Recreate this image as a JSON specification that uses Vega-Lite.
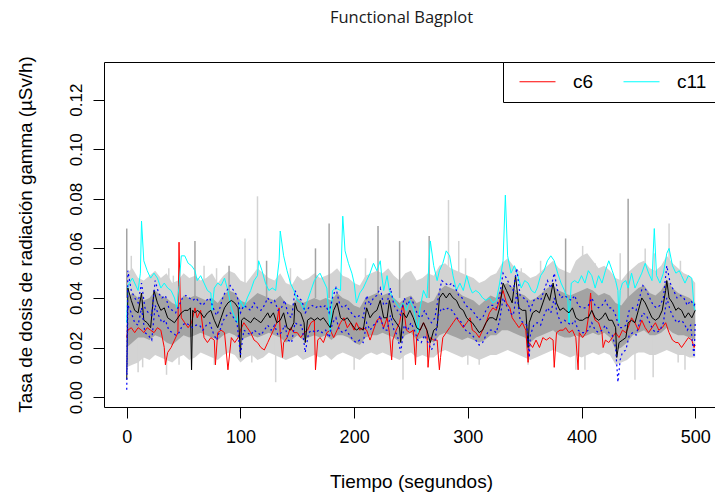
{
"$schema":"https://vega.github.io/schema/vega-lite/v6.json",
"autosize":{"type":"none"},
"padding":{"left":104,"top":62,"right":0,"bottom":87},
"width":611,"height":345,
"background":"white",
"title":{"text":"Functional Bagplot","font":"Open Sans","fontSize":16.5,"fontWeight":"normal","color":"#1a1a1a","anchor":"middle","frame":"group","dx":-8,"offset":29},
"config":{"view":{"stroke":"black","strokeWidth":1},
"axis":{"grid":false,"domain":false,"tickColor":"black","labelColor":"black","titleColor":"black","labelFont":"Liberation Sans","titleFont":"Liberation Sans","labelFontSize":18,"titleFontSize":19,"titleFontWeight":"normal","tickSize":11}},
"datasets":{
"band":[
{"t":0,"olo":0.012,"blo":0.020,"bhi":0.040,"ohi":0.050},
{"t":5,"olo":0.013,"blo":0.022,"bhi":0.042,"ohi":0.052},
{"t":10,"olo":0.014,"blo":0.024,"bhi":0.040,"ohi":0.048},
{"t":15,"olo":0.016,"blo":0.024,"bhi":0.039,"ohi":0.047},
{"t":20,"olo":0.015,"blo":0.023,"bhi":0.040,"ohi":0.049},
{"t":25,"olo":0.017,"blo":0.025,"bhi":0.043,"ohi":0.051},
{"t":30,"olo":0.016,"blo":0.024,"bhi":0.041,"ohi":0.048},
{"t":35,"olo":0.015,"blo":0.022,"bhi":0.040,"ohi":0.050},
{"t":40,"olo":0.014,"blo":0.021,"bhi":0.038,"ohi":0.046},
{"t":45,"olo":0.016,"blo":0.023,"bhi":0.037,"ohi":0.047},
{"t":50,"olo":0.017,"blo":0.025,"bhi":0.041,"ohi":0.050},
{"t":55,"olo":0.015,"blo":0.024,"bhi":0.040,"ohi":0.048},
{"t":60,"olo":0.016,"blo":0.025,"bhi":0.041,"ohi":0.049},
{"t":65,"olo":0.018,"blo":0.026,"bhi":0.040,"ohi":0.047},
{"t":70,"olo":0.017,"blo":0.025,"bhi":0.039,"ohi":0.048},
{"t":75,"olo":0.016,"blo":0.024,"bhi":0.040,"ohi":0.050},
{"t":80,"olo":0.015,"blo":0.023,"bhi":0.038,"ohi":0.046},
{"t":85,"olo":0.017,"blo":0.025,"bhi":0.041,"ohi":0.049},
{"t":90,"olo":0.018,"blo":0.026,"bhi":0.043,"ohi":0.051},
{"t":95,"olo":0.017,"blo":0.025,"bhi":0.042,"ohi":0.050},
{"t":100,"olo":0.014,"blo":0.023,"bhi":0.039,"ohi":0.047},
{"t":105,"olo":0.016,"blo":0.024,"bhi":0.038,"ohi":0.046},
{"t":110,"olo":0.017,"blo":0.025,"bhi":0.040,"ohi":0.049},
{"t":115,"olo":0.015,"blo":0.024,"bhi":0.042,"ohi":0.052},
{"t":120,"olo":0.016,"blo":0.025,"bhi":0.041,"ohi":0.050},
{"t":125,"olo":0.018,"blo":0.026,"bhi":0.040,"ohi":0.048},
{"t":130,"olo":0.017,"blo":0.025,"bhi":0.039,"ohi":0.047},
{"t":135,"olo":0.016,"blo":0.024,"bhi":0.041,"ohi":0.050},
{"t":140,"olo":0.015,"blo":0.022,"bhi":0.038,"ohi":0.046},
{"t":145,"olo":0.016,"blo":0.023,"bhi":0.037,"ohi":0.045},
{"t":150,"olo":0.017,"blo":0.025,"bhi":0.040,"ohi":0.049},
{"t":155,"olo":0.015,"blo":0.023,"bhi":0.038,"ohi":0.047},
{"t":160,"olo":0.016,"blo":0.024,"bhi":0.039,"ohi":0.048},
{"t":165,"olo":0.017,"blo":0.025,"bhi":0.040,"ohi":0.050},
{"t":170,"olo":0.016,"blo":0.024,"bhi":0.039,"ohi":0.048},
{"t":175,"olo":0.017,"blo":0.025,"bhi":0.040,"ohi":0.049},
{"t":180,"olo":0.015,"blo":0.023,"bhi":0.039,"ohi":0.050},
{"t":185,"olo":0.017,"blo":0.025,"bhi":0.042,"ohi":0.052},
{"t":190,"olo":0.018,"blo":0.025,"bhi":0.040,"ohi":0.049},
{"t":195,"olo":0.017,"blo":0.024,"bhi":0.039,"ohi":0.048},
{"t":200,"olo":0.016,"blo":0.022,"bhi":0.037,"ohi":0.046},
{"t":205,"olo":0.015,"blo":0.021,"bhi":0.036,"ohi":0.045},
{"t":210,"olo":0.017,"blo":0.024,"bhi":0.040,"ohi":0.049},
{"t":215,"olo":0.018,"blo":0.025,"bhi":0.041,"ohi":0.050},
{"t":220,"olo":0.017,"blo":0.025,"bhi":0.042,"ohi":0.051},
{"t":225,"olo":0.018,"blo":0.026,"bhi":0.041,"ohi":0.050},
{"t":230,"olo":0.017,"blo":0.025,"bhi":0.042,"ohi":0.052},
{"t":235,"olo":0.016,"blo":0.024,"bhi":0.040,"ohi":0.049},
{"t":240,"olo":0.015,"blo":0.022,"bhi":0.038,"ohi":0.047},
{"t":245,"olo":0.017,"blo":0.025,"bhi":0.040,"ohi":0.050},
{"t":250,"olo":0.018,"blo":0.026,"bhi":0.041,"ohi":0.051},
{"t":255,"olo":0.016,"blo":0.023,"bhi":0.038,"ohi":0.047},
{"t":260,"olo":0.017,"blo":0.024,"bhi":0.039,"ohi":0.048},
{"t":265,"olo":0.016,"blo":0.023,"bhi":0.038,"ohi":0.050},
{"t":270,"olo":0.016,"blo":0.022,"bhi":0.039,"ohi":0.049},
{"t":275,"olo":0.018,"blo":0.025,"bhi":0.043,"ohi":0.053},
{"t":280,"olo":0.019,"blo":0.026,"bhi":0.045,"ohi":0.054},
{"t":285,"olo":0.018,"blo":0.025,"bhi":0.044,"ohi":0.052},
{"t":290,"olo":0.017,"blo":0.024,"bhi":0.043,"ohi":0.051},
{"t":295,"olo":0.016,"blo":0.023,"bhi":0.041,"ohi":0.050},
{"t":300,"olo":0.017,"blo":0.024,"bhi":0.040,"ohi":0.049},
{"t":305,"olo":0.016,"blo":0.023,"bhi":0.039,"ohi":0.048},
{"t":310,"olo":0.015,"blo":0.022,"bhi":0.037,"ohi":0.046},
{"t":315,"olo":0.016,"blo":0.023,"bhi":0.039,"ohi":0.047},
{"t":320,"olo":0.017,"blo":0.025,"bhi":0.041,"ohi":0.049},
{"t":325,"olo":0.017,"blo":0.025,"bhi":0.040,"ohi":0.050},
{"t":330,"olo":0.018,"blo":0.027,"bhi":0.045,"ohi":0.054},
{"t":335,"olo":0.019,"blo":0.027,"bhi":0.046,"ohi":0.056},
{"t":340,"olo":0.018,"blo":0.026,"bhi":0.044,"ohi":0.053},
{"t":345,"olo":0.017,"blo":0.025,"bhi":0.042,"ohi":0.051},
{"t":350,"olo":0.016,"blo":0.024,"bhi":0.041,"ohi":0.050},
{"t":355,"olo":0.015,"blo":0.022,"bhi":0.039,"ohi":0.048},
{"t":360,"olo":0.016,"blo":0.024,"bhi":0.040,"ohi":0.049},
{"t":365,"olo":0.017,"blo":0.025,"bhi":0.042,"ohi":0.051},
{"t":370,"olo":0.018,"blo":0.026,"bhi":0.044,"ohi":0.053},
{"t":375,"olo":0.019,"blo":0.027,"bhi":0.045,"ohi":0.055},
{"t":380,"olo":0.018,"blo":0.025,"bhi":0.043,"ohi":0.052},
{"t":385,"olo":0.017,"blo":0.024,"bhi":0.042,"ohi":0.051},
{"t":390,"olo":0.016,"blo":0.024,"bhi":0.041,"ohi":0.050},
{"t":395,"olo":0.017,"blo":0.025,"bhi":0.042,"ohi":0.055},
{"t":400,"olo":0.016,"blo":0.024,"bhi":0.043,"ohi":0.057},
{"t":405,"olo":0.017,"blo":0.025,"bhi":0.044,"ohi":0.058},
{"t":410,"olo":0.018,"blo":0.026,"bhi":0.043,"ohi":0.055},
{"t":415,"olo":0.017,"blo":0.025,"bhi":0.041,"ohi":0.052},
{"t":420,"olo":0.018,"blo":0.026,"bhi":0.042,"ohi":0.053},
{"t":425,"olo":0.017,"blo":0.024,"bhi":0.041,"ohi":0.051},
{"t":430,"olo":0.013,"blo":0.019,"bhi":0.038,"ohi":0.048},
{"t":435,"olo":0.014,"blo":0.020,"bhi":0.037,"ohi":0.047},
{"t":440,"olo":0.015,"blo":0.022,"bhi":0.040,"ohi":0.050},
{"t":445,"olo":0.017,"blo":0.025,"bhi":0.042,"ohi":0.052},
{"t":450,"olo":0.018,"blo":0.026,"bhi":0.044,"ohi":0.054},
{"t":455,"olo":0.018,"blo":0.027,"bhi":0.045,"ohi":0.055},
{"t":460,"olo":0.017,"blo":0.025,"bhi":0.042,"ohi":0.052},
{"t":465,"olo":0.017,"blo":0.025,"bhi":0.041,"ohi":0.051},
{"t":470,"olo":0.018,"blo":0.026,"bhi":0.043,"ohi":0.053},
{"t":475,"olo":0.019,"blo":0.028,"bhi":0.047,"ohi":0.057},
{"t":480,"olo":0.018,"blo":0.026,"bhi":0.044,"ohi":0.054},
{"t":485,"olo":0.017,"blo":0.025,"bhi":0.042,"ohi":0.052},
{"t":490,"olo":0.017,"blo":0.025,"bhi":0.041,"ohi":0.050},
{"t":495,"olo":0.016,"blo":0.024,"bhi":0.040,"ohi":0.049},
{"t":500,"olo":0.016,"blo":0.023,"bhi":0.038,"ohi":0.046}
],
"spk":[
{"t":0,"a":0.04,"b":0.068,"k":"d"},{"t":4,"a":0.04,"b":0.057,"k":"l"},{"t":37,"a":0.04,"b":0.052,"k":"l"},{"t":41,"a":0.04,"b":0.049,"k":"l"},
{"t":60,"a":0.04,"b":0.063,"k":"d"},{"t":68,"a":0.04,"b":0.053,"k":"l"},{"t":79,"a":0.04,"b":0.052,"k":"l"},{"t":90,"a":0.04,"b":0.053,"k":"d"},
{"t":104,"a":0.04,"b":0.064,"k":"l"},{"t":115,"a":0.04,"b":0.081,"k":"l"},{"t":123,"a":0.04,"b":0.055,"k":"d"},{"t":144,"a":0.04,"b":0.052,"k":"l"},
{"t":166,"a":0.04,"b":0.060,"k":"d"},{"t":178,"a":0.04,"b":0.070,"k":"d"},{"t":210,"a":0.04,"b":0.056,"k":"l"},{"t":221,"a":0.04,"b":0.069,"k":"d"},
{"t":240,"a":0.04,"b":0.063,"k":"d"},{"t":266,"a":0.04,"b":0.065,"k":"d"},{"t":283,"a":0.04,"b":0.0795,"k":"l"},{"t":292,"a":0.04,"b":0.063,"k":"l"},
{"t":298,"a":0.04,"b":0.056,"k":"l"},{"t":347,"a":0.04,"b":0.052,"k":"l"},{"t":364,"a":0.04,"b":0.055,"k":"l"},{"t":386,"a":0.04,"b":0.064,"k":"d"},
{"t":401,"a":0.04,"b":0.061,"k":"l"},{"t":412,"a":0.04,"b":0.054,"k":"l"},{"t":434,"a":0.04,"b":0.058,"k":"l"},{"t":441,"a":0.04,"b":0.080,"k":"d"},
{"t":456,"a":0.04,"b":0.060,"k":"l"},{"t":464,"a":0.04,"b":0.058,"k":"l"},{"t":477,"a":0.04,"b":0.070,"k":"l"},{"t":487,"a":0.04,"b":0.055,"k":"l"},
{"t":10,"a":0.025,"b":0.010,"k":"l"},{"t":14,"a":0.025,"b":0.012,"k":"l"},{"t":35,"a":0.025,"b":0.009,"k":"l"},{"t":46,"a":0.025,"b":0.013,"k":"l"},
{"t":57,"a":0.025,"b":0.011,"k":"l"},{"t":77,"a":0.025,"b":0.013,"k":"l"},{"t":110,"a":0.025,"b":0.014,"k":"l"},{"t":131,"a":0.025,"b":0.006,"k":"l"},
{"t":200,"a":0.025,"b":0.011,"k":"l"},{"t":243,"a":0.025,"b":0.007,"k":"l"},{"t":300,"a":0.025,"b":0.013,"k":"l"},{"t":310,"a":0.025,"b":0.013,"k":"l"},
{"t":353,"a":0.025,"b":0.013,"k":"l"},{"t":395,"a":0.025,"b":0.011,"k":"l"},{"t":403,"a":0.025,"b":0.011,"k":"l"},{"t":447,"a":0.025,"b":0.007,"k":"l"},
{"t":463,"a":0.025,"b":0.008,"k":"l"},{"t":485,"a":0.025,"b":0.014,"k":"l"},{"t":491,"a":0.025,"b":0.011,"k":"l"}
],
"out":[
{"s":"c6","t":0,"v":0.024},{"s":"c6","t":1,"v":0.027},{"s":"c6","t":4,"v":0.028},{"s":"c6","t":7,"v":0.026},{"s":"c6","t":10,"v":0.028},{"s":"c6","t":13,"v":0.027},{"s":"c6","t":15,"v":0.026},{"s":"c6","t":18,"v":0.028},{"s":"c6","t":21,"v":0.027},{"s":"c6","t":24,"v":0.026},{"s":"c6","t":27,"v":0.028},{"s":"c6","t":30,"v":0.027},{"s":"c6","t":33,"v":0.020},{"s":"c6","t":34,"v":0.013},{"s":"c6","t":36,"v":0.018},{"s":"c6","t":39,"v":0.020},{"s":"c6","t":42,"v":0.023},{"s":"c6","t":45,"v":0.026},{"s":"c6","t":46,"v":0.0625},{"s":"c6","t":47,"v":0.040},{"s":"c6","t":48,"v":0.032},{"s":"c6","t":51,"v":0.030},{"s":"c6","t":54,"v":0.028},{"s":"c6","t":57,"v":0.030},{"s":"c6","t":60,"v":0.036},{"s":"c6","t":62,"v":0.032},{"s":"c6","t":65,"v":0.035},{"s":"c6","t":68,"v":0.024},{"s":"c6","t":71,"v":0.022},{"s":"c6","t":74,"v":0.024},{"s":"c6","t":77,"v":0.023},{"s":"c6","t":78,"v":0.013},{"s":"c6","t":80,"v":0.026},{"s":"c6","t":83,"v":0.027},{"s":"c6","t":86,"v":0.026},{"s":"c6","t":89,"v":0.011},{"s":"c6","t":92,"v":0.024},{"s":"c6","t":95,"v":0.022},{"s":"c6","t":98,"v":0.024},{"s":"c6","t":100,"v":0.027},{"s":"c6","t":103,"v":0.030},{"s":"c6","t":106,"v":0.028},{"s":"c6","t":109,"v":0.026},{"s":"c6","t":112,"v":0.023},{"s":"c6","t":115,"v":0.022},{"s":"c6","t":118,"v":0.020},{"s":"c6","t":121,"v":0.019},{"s":"c6","t":124,"v":0.022},{"s":"c6","t":126,"v":0.024},{"s":"c6","t":129,"v":0.027},{"s":"c6","t":132,"v":0.030},{"s":"c6","t":134,"v":0.036},{"s":"c6","t":135,"v":0.026},{"s":"c6","t":137,"v":0.016},{"s":"c6","t":138,"v":0.022},{"s":"c6","t":141,"v":0.024},{"s":"c6","t":144,"v":0.028},{"s":"c6","t":147,"v":0.026},{"s":"c6","t":150,"v":0.026},{"s":"c6","t":153,"v":0.024},{"s":"c6","t":156,"v":0.026},{"s":"c6","t":159,"v":0.027},{"s":"c6","t":162,"v":0.030},{"s":"c6","t":165,"v":0.031},{"s":"c6","t":166,"v":0.011},{"s":"c6","t":168,"v":0.023},{"s":"c6","t":170,"v":0.024},{"s":"c6","t":173,"v":0.022},{"s":"c6","t":176,"v":0.026},{"s":"c6","t":179,"v":0.027},{"s":"c6","t":182,"v":0.024},{"s":"c6","t":185,"v":0.027},{"s":"c6","t":188,"v":0.030},{"s":"c6","t":191,"v":0.032},{"s":"c6","t":194,"v":0.028},{"s":"c6","t":197,"v":0.030},{"s":"c6","t":200,"v":0.027},{"s":"c6","t":202,"v":0.030},{"s":"c6","t":205,"v":0.027},{"s":"c6","t":208,"v":0.028},{"s":"c6","t":211,"v":0.027},{"s":"c6","t":214,"v":0.023},{"s":"c6","t":217,"v":0.027},{"s":"c6","t":220,"v":0.031},{"s":"c6","t":223,"v":0.032},{"s":"c6","t":226,"v":0.028},{"s":"c6","t":229,"v":0.032},{"s":"c6","t":231,"v":0.026},{"s":"c6","t":233,"v":0.015},{"s":"c6","t":234,"v":0.023},{"s":"c6","t":237,"v":0.027},{"s":"c6","t":240,"v":0.030},{"s":"c6","t":243,"v":0.038},{"s":"c6","t":246,"v":0.027},{"s":"c6","t":249,"v":0.026},{"s":"c6","t":252,"v":0.027},{"s":"c6","t":254,"v":0.013},{"s":"c6","t":255,"v":0.024},{"s":"c6","t":258,"v":0.027},{"s":"c6","t":261,"v":0.030},{"s":"c6","t":264,"v":0.027},{"s":"c6","t":265,"v":0.012},{"s":"c6","t":267,"v":0.024},{"s":"c6","t":270,"v":0.023},{"s":"c6","t":273,"v":0.023},{"s":"c6","t":275,"v":0.011},{"s":"c6","t":276,"v":0.016},{"s":"c6","t":278,"v":0.024},{"s":"c6","t":281,"v":0.026},{"s":"c6","t":284,"v":0.028},{"s":"c6","t":287,"v":0.030},{"s":"c6","t":290,"v":0.032},{"s":"c6","t":293,"v":0.030},{"s":"c6","t":296,"v":0.028},{"s":"c6","t":299,"v":0.030},{"s":"c6","t":302,"v":0.032},{"s":"c6","t":304,"v":0.027},{"s":"c6","t":307,"v":0.026},{"s":"c6","t":310,"v":0.024},{"s":"c6","t":313,"v":0.027},{"s":"c6","t":316,"v":0.030},{"s":"c6","t":319,"v":0.034},{"s":"c6","t":322,"v":0.036},{"s":"c6","t":325,"v":0.035},{"s":"c6","t":328,"v":0.039},{"s":"c6","t":331,"v":0.043},{"s":"c6","t":334,"v":0.038},{"s":"c6","t":337,"v":0.036},{"s":"c6","t":339,"v":0.032},{"s":"c6","t":342,"v":0.030},{"s":"c6","t":345,"v":0.028},{"s":"c6","t":348,"v":0.030},{"s":"c6","t":351,"v":0.027},{"s":"c6","t":353,"v":0.014},{"s":"c6","t":354,"v":0.022},{"s":"c6","t":357,"v":0.020},{"s":"c6","t":360,"v":0.023},{"s":"c6","t":363,"v":0.020},{"s":"c6","t":366,"v":0.024},{"s":"c6","t":369,"v":0.023},{"s":"c6","t":372,"v":0.024},{"s":"c6","t":375,"v":0.023},{"s":"c6","t":376,"v":0.012},{"s":"c6","t":378,"v":0.026},{"s":"c6","t":381,"v":0.027},{"s":"c6","t":384,"v":0.027},{"s":"c6","t":386,"v":0.028},{"s":"c6","t":389,"v":0.026},{"s":"c6","t":392,"v":0.027},{"s":"c6","t":395,"v":0.024},{"s":"c6","t":397,"v":0.011},{"s":"c6","t":398,"v":0.026},{"s":"c6","t":401,"v":0.024},{"s":"c6","t":404,"v":0.026},{"s":"c6","t":406,"v":0.032},{"s":"c6","t":408,"v":0.042},{"s":"c6","t":409,"v":0.035},{"s":"c6","t":412,"v":0.031},{"s":"c6","t":415,"v":0.030},{"s":"c6","t":418,"v":0.026},{"s":"c6","t":419,"v":0.020},{"s":"c6","t":421,"v":0.023},{"s":"c6","t":424,"v":0.022},{"s":"c6","t":427,"v":0.024},{"s":"c6","t":430,"v":0.026},{"s":"c6","t":433,"v":0.024},{"s":"c6","t":436,"v":0.027},{"s":"c6","t":439,"v":0.026},{"s":"c6","t":441,"v":0.028},{"s":"c6","t":444,"v":0.032},{"s":"c6","t":447,"v":0.030},{"s":"c6","t":450,"v":0.027},{"s":"c6","t":453,"v":0.031},{"s":"c6","t":456,"v":0.028},{"s":"c6","t":459,"v":0.026},{"s":"c6","t":462,"v":0.028},{"s":"c6","t":465,"v":0.030},{"s":"c6","t":468,"v":0.027},{"s":"c6","t":471,"v":0.028},{"s":"c6","t":474,"v":0.030},{"s":"c6","t":477,"v":0.026},{"s":"c6","t":480,"v":0.023},{"s":"c6","t":483,"v":0.022},{"s":"c6","t":485,"v":0.022},{"s":"c6","t":488,"v":0.020},{"s":"c6","t":491,"v":0.022},{"s":"c6","t":494,"v":0.024},{"s":"c6","t":497,"v":0.023},{"s":"c6","t":499,"v":0.020},{"s":"c6","t":500,"v":0.021},
{"s":"c11","t":0,"v":0.030},{"s":"c11","t":1,"v":0.045},{"s":"c11","t":5,"v":0.048},{"s":"c11","t":10,"v":0.043},{"s":"c11","t":12,"v":0.050},{"s":"c11","t":13,"v":0.071},{"s":"c11","t":15,"v":0.055},{"s":"c11","t":18,"v":0.051},{"s":"c11","t":21,"v":0.048},{"s":"c11","t":24,"v":0.050},{"s":"c11","t":27,"v":0.048},{"s":"c11","t":30,"v":0.044},{"s":"c11","t":33,"v":0.046},{"s":"c11","t":36,"v":0.044},{"s":"c11","t":39,"v":0.043},{"s":"c11","t":42,"v":0.040},{"s":"c11","t":44,"v":0.036},{"s":"c11","t":46,"v":0.045},{"s":"c11","t":48,"v":0.057},{"s":"c11","t":51,"v":0.057},{"s":"c11","t":54,"v":0.054},{"s":"c11","t":57,"v":0.053},{"s":"c11","t":60,"v":0.051},{"s":"c11","t":62,"v":0.047},{"s":"c11","t":65,"v":0.049},{"s":"c11","t":68,"v":0.046},{"s":"c11","t":71,"v":0.043},{"s":"c11","t":74,"v":0.042},{"s":"c11","t":75,"v":0.035},{"s":"c11","t":77,"v":0.044},{"s":"c11","t":80,"v":0.046},{"s":"c11","t":83,"v":0.045},{"s":"c11","t":86,"v":0.048},{"s":"c11","t":89,"v":0.043},{"s":"c11","t":92,"v":0.036},{"s":"c11","t":95,"v":0.032},{"s":"c11","t":97,"v":0.030},{"s":"c11","t":100,"v":0.039},{"s":"c11","t":103,"v":0.036},{"s":"c11","t":106,"v":0.040},{"s":"c11","t":109,"v":0.043},{"s":"c11","t":112,"v":0.047},{"s":"c11","t":115,"v":0.049},{"s":"c11","t":116,"v":0.055},{"s":"c11","t":119,"v":0.051},{"s":"c11","t":122,"v":0.046},{"s":"c11","t":125,"v":0.043},{"s":"c11","t":128,"v":0.044},{"s":"c11","t":131,"v":0.043},{"s":"c11","t":134,"v":0.055},{"s":"c11","t":135,"v":0.067},{"s":"c11","t":138,"v":0.057},{"s":"c11","t":141,"v":0.051},{"s":"c11","t":144,"v":0.046},{"s":"c11","t":147,"v":0.043},{"s":"c11","t":150,"v":0.039},{"s":"c11","t":153,"v":0.038},{"s":"c11","t":156,"v":0.035},{"s":"c11","t":159,"v":0.039},{"s":"c11","t":162,"v":0.043},{"s":"c11","t":165,"v":0.047},{"s":"c11","t":168,"v":0.049},{"s":"c11","t":170,"v":0.050},{"s":"c11","t":173,"v":0.047},{"s":"c11","t":176,"v":0.044},{"s":"c11","t":179,"v":0.026},{"s":"c11","t":181,"v":0.043},{"s":"c11","t":184,"v":0.044},{"s":"c11","t":188,"v":0.043},{"s":"c11","t":190,"v":0.073},{"s":"c11","t":192,"v":0.059},{"s":"c11","t":195,"v":0.054},{"s":"c11","t":198,"v":0.050},{"s":"c11","t":200,"v":0.046},{"s":"c11","t":202,"v":0.038},{"s":"c11","t":205,"v":0.042},{"s":"c11","t":208,"v":0.044},{"s":"c11","t":211,"v":0.047},{"s":"c11","t":214,"v":0.050},{"s":"c11","t":217,"v":0.054},{"s":"c11","t":220,"v":0.051},{"s":"c11","t":223,"v":0.055},{"s":"c11","t":224,"v":0.050},{"s":"c11","t":226,"v":0.043},{"s":"c11","t":229,"v":0.049},{"s":"c11","t":231,"v":0.043},{"s":"c11","t":234,"v":0.040},{"s":"c11","t":237,"v":0.038},{"s":"c11","t":240,"v":0.036},{"s":"c11","t":243,"v":0.038},{"s":"c11","t":246,"v":0.035},{"s":"c11","t":249,"v":0.039},{"s":"c11","t":252,"v":0.036},{"s":"c11","t":255,"v":0.030},{"s":"c11","t":256,"v":0.026},{"s":"c11","t":258,"v":0.036},{"s":"c11","t":261,"v":0.043},{"s":"c11","t":264,"v":0.040},{"s":"c11","t":267,"v":0.063},{"s":"c11","t":270,"v":0.053},{"s":"c11","t":273,"v":0.047},{"s":"c11","t":275,"v":0.051},{"s":"c11","t":278,"v":0.054},{"s":"c11","t":281,"v":0.059},{"s":"c11","t":284,"v":0.057},{"s":"c11","t":287,"v":0.049},{"s":"c11","t":290,"v":0.043},{"s":"c11","t":293,"v":0.046},{"s":"c11","t":296,"v":0.043},{"s":"c11","t":299,"v":0.049},{"s":"c11","t":302,"v":0.044},{"s":"c11","t":304,"v":0.042},{"s":"c11","t":307,"v":0.043},{"s":"c11","t":310,"v":0.042},{"s":"c11","t":313,"v":0.040},{"s":"c11","t":316,"v":0.039},{"s":"c11","t":319,"v":0.040},{"s":"c11","t":322,"v":0.038},{"s":"c11","t":325,"v":0.039},{"s":"c11","t":328,"v":0.046},{"s":"c11","t":331,"v":0.055},{"s":"c11","t":333,"v":0.0815},{"s":"c11","t":335,"v":0.057},{"s":"c11","t":338,"v":0.050},{"s":"c11","t":341,"v":0.053},{"s":"c11","t":344,"v":0.049},{"s":"c11","t":347,"v":0.044},{"s":"c11","t":350,"v":0.047},{"s":"c11","t":353,"v":0.046},{"s":"c11","t":356,"v":0.043},{"s":"c11","t":359,"v":0.042},{"s":"c11","t":361,"v":0.044},{"s":"c11","t":364,"v":0.049},{"s":"c11","t":367,"v":0.051},{"s":"c11","t":370,"v":0.055},{"s":"c11","t":373,"v":0.057},{"s":"c11","t":376,"v":0.055},{"s":"c11","t":379,"v":0.050},{"s":"c11","t":382,"v":0.046},{"s":"c11","t":385,"v":0.043},{"s":"c11","t":388,"v":0.039},{"s":"c11","t":389,"v":0.030},{"s":"c11","t":391,"v":0.046},{"s":"c11","t":394,"v":0.047},{"s":"c11","t":397,"v":0.046},{"s":"c11","t":400,"v":0.049},{"s":"c11","t":403,"v":0.046},{"s":"c11","t":406,"v":0.051},{"s":"c11","t":409,"v":0.049},{"s":"c11","t":412,"v":0.044},{"s":"c11","t":415,"v":0.049},{"s":"c11","t":418,"v":0.046},{"s":"c11","t":421,"v":0.051},{"s":"c11","t":424,"v":0.055},{"s":"c11","t":427,"v":0.051},{"s":"c11","t":430,"v":0.047},{"s":"c11","t":432,"v":0.043},{"s":"c11","t":433,"v":0.030},{"s":"c11","t":434,"v":0.043},{"s":"c11","t":436,"v":0.046},{"s":"c11","t":439,"v":0.047},{"s":"c11","t":441,"v":0.044},{"s":"c11","t":444,"v":0.050},{"s":"c11","t":447,"v":0.044},{"s":"c11","t":450,"v":0.047},{"s":"c11","t":453,"v":0.050},{"s":"c11","t":456,"v":0.054},{"s":"c11","t":459,"v":0.050},{"s":"c11","t":462,"v":0.047},{"s":"c11","t":464,"v":0.068},{"s":"c11","t":466,"v":0.049},{"s":"c11","t":469,"v":0.046},{"s":"c11","t":472,"v":0.050},{"s":"c11","t":475,"v":0.058},{"s":"c11","t":477,"v":0.060},{"s":"c11","t":480,"v":0.053},{"s":"c11","t":483,"v":0.050},{"s":"c11","t":486,"v":0.051},{"s":"c11","t":488,"v":0.049},{"s":"c11","t":491,"v":0.046},{"s":"c11","t":494,"v":0.049},{"s":"c11","t":497,"v":0.048},{"s":"c11","t":499,"v":0.036},{"s":"c11","t":500,"v":0.035}
],
"med":[
{"t":0,"v":0.007},{"t":1,"v":0.044},{"t":4,"v":0.039},{"t":7,"v":0.035},{"t":10,"v":0.034},{"t":13,"v":0.042},{"t":15,"v":0.031},{"t":18,"v":0.030},{"t":21,"v":0.028},{"t":24,"v":0.043},{"t":27,"v":0.038},{"t":30,"v":0.035},{"t":33,"v":0.036},{"t":36,"v":0.032},{"t":39,"v":0.031},{"t":42,"v":0.030},{"t":45,"v":0.032},{"t":48,"v":0.034},{"t":51,"v":0.035},{"t":54,"v":0.035},{"t":56,"v":0.036},{"t":57,"v":0.011},{"t":58,"v":0.035},{"t":60,"v":0.034},{"t":62,"v":0.035},{"t":65,"v":0.034},{"t":68,"v":0.032},{"t":71,"v":0.034},{"t":74,"v":0.035},{"t":77,"v":0.031},{"t":80,"v":0.028},{"t":83,"v":0.032},{"t":86,"v":0.036},{"t":89,"v":0.038},{"t":92,"v":0.039},{"t":95,"v":0.038},{"t":98,"v":0.036},{"t":100,"v":0.016},{"t":101,"v":0.031},{"t":103,"v":0.032},{"t":106,"v":0.031},{"t":109,"v":0.030},{"t":112,"v":0.032},{"t":115,"v":0.031},{"t":118,"v":0.030},{"t":121,"v":0.032},{"t":124,"v":0.034},{"t":126,"v":0.032},{"t":129,"v":0.034},{"t":132,"v":0.030},{"t":135,"v":0.031},{"t":138,"v":0.034},{"t":141,"v":0.028},{"t":144,"v":0.027},{"t":147,"v":0.030},{"t":148,"v":0.038},{"t":150,"v":0.035},{"t":153,"v":0.034},{"t":156,"v":0.030},{"t":157,"v":0.022},{"t":159,"v":0.031},{"t":162,"v":0.032},{"t":165,"v":0.031},{"t":168,"v":0.032},{"t":170,"v":0.031},{"t":173,"v":0.032},{"t":176,"v":0.030},{"t":179,"v":0.028},{"t":182,"v":0.035},{"t":185,"v":0.038},{"t":188,"v":0.032},{"t":191,"v":0.031},{"t":194,"v":0.032},{"t":197,"v":0.030},{"t":200,"v":0.028},{"t":202,"v":0.027},{"t":205,"v":0.028},{"t":208,"v":0.027},{"t":211,"v":0.036},{"t":214,"v":0.032},{"t":217,"v":0.034},{"t":220,"v":0.035},{"t":223,"v":0.039},{"t":226,"v":0.032},{"t":229,"v":0.032},{"t":231,"v":0.039},{"t":234,"v":0.032},{"t":237,"v":0.030},{"t":240,"v":0.028},{"t":241,"v":0.022},{"t":243,"v":0.034},{"t":246,"v":0.032},{"t":249,"v":0.035},{"t":252,"v":0.032},{"t":255,"v":0.028},{"t":258,"v":0.027},{"t":261,"v":0.030},{"t":264,"v":0.027},{"t":267,"v":0.022},{"t":270,"v":0.027},{"t":273,"v":0.028},{"t":275,"v":0.040},{"t":278,"v":0.042},{"t":281,"v":0.040},{"t":284,"v":0.042},{"t":287,"v":0.040},{"t":290,"v":0.039},{"t":293,"v":0.036},{"t":296,"v":0.035},{"t":299,"v":0.032},{"t":301,"v":0.031},{"t":304,"v":0.030},{"t":307,"v":0.028},{"t":310,"v":0.026},{"t":313,"v":0.027},{"t":316,"v":0.030},{"t":319,"v":0.032},{"t":322,"v":0.032},{"t":325,"v":0.031},{"t":328,"v":0.036},{"t":331,"v":0.046},{"t":334,"v":0.043},{"t":337,"v":0.040},{"t":339,"v":0.038},{"t":342,"v":0.049},{"t":345,"v":0.036},{"t":348,"v":0.035},{"t":351,"v":0.035},{"t":353,"v":0.020},{"t":354,"v":0.030},{"t":357,"v":0.034},{"t":360,"v":0.035},{"t":363,"v":0.034},{"t":366,"v":0.038},{"t":369,"v":0.042},{"t":372,"v":0.039},{"t":375,"v":0.046},{"t":378,"v":0.038},{"t":381,"v":0.035},{"t":384,"v":0.036},{"t":386,"v":0.035},{"t":389,"v":0.034},{"t":392,"v":0.036},{"t":395,"v":0.032},{"t":398,"v":0.031},{"t":401,"v":0.031},{"t":404,"v":0.032},{"t":406,"v":0.032},{"t":409,"v":0.035},{"t":412,"v":0.032},{"t":415,"v":0.031},{"t":418,"v":0.032},{"t":421,"v":0.034},{"t":424,"v":0.031},{"t":427,"v":0.031},{"t":430,"v":0.028},{"t":431,"v":0.016},{"t":433,"v":0.022},{"t":436,"v":0.023},{"t":439,"v":0.024},{"t":441,"v":0.030},{"t":444,"v":0.031},{"t":447,"v":0.030},{"t":450,"v":0.035},{"t":453,"v":0.040},{"t":456,"v":0.038},{"t":459,"v":0.035},{"t":462,"v":0.032},{"t":465,"v":0.031},{"t":468,"v":0.032},{"t":471,"v":0.035},{"t":474,"v":0.043},{"t":475,"v":0.047},{"t":477,"v":0.040},{"t":480,"v":0.038},{"t":483,"v":0.035},{"t":485,"v":0.036},{"t":488,"v":0.035},{"t":491,"v":0.032},{"t":494,"v":0.034},{"t":497,"v":0.032},{"t":500,"v":0.035}
],
"blue":[
{"s":"u","t":0,"v":0.010},{"s":"u","t":1,"v":0.051},{"s":"u","t":4,"v":0.043},{"s":"u","t":7,"v":0.040},{"s":"u","t":10,"v":0.038},{"s":"u","t":13,"v":0.046},{"s":"u","t":16,"v":0.036},{"s":"u","t":19,"v":0.034},{"s":"u","t":22,"v":0.033},{"s":"u","t":25,"v":0.047},{"s":"u","t":28,"v":0.042},{"s":"u","t":31,"v":0.040},{"s":"u","t":34,"v":0.041},{"s":"u","t":37,"v":0.036},{"s":"u","t":40,"v":0.035},{"s":"u","t":43,"v":0.034},{"s":"u","t":46,"v":0.037},{"s":"u","t":49,"v":0.040},{"s":"u","t":52,"v":0.041},{"s":"u","t":55,"v":0.040},{"s":"u","t":58,"v":0.039},{"s":"u","t":61,"v":0.040},{"s":"u","t":64,"v":0.038},{"s":"u","t":67,"v":0.037},{"s":"u","t":70,"v":0.039},{"s":"u","t":73,"v":0.040},{"s":"u","t":76,"v":0.036},{"s":"u","t":79,"v":0.033},{"s":"u","t":82,"v":0.036},{"s":"u","t":85,"v":0.041},{"s":"u","t":88,"v":0.043},{"s":"u","t":91,"v":0.045},{"s":"u","t":94,"v":0.043},{"s":"u","t":97,"v":0.041},{"s":"u","t":100,"v":0.034},{"s":"u","t":103,"v":0.037},{"s":"u","t":106,"v":0.036},{"s":"u","t":109,"v":0.035},{"s":"u","t":112,"v":0.038},{"s":"u","t":115,"v":0.036},{"s":"u","t":118,"v":0.035},{"s":"u","t":121,"v":0.037},{"s":"u","t":124,"v":0.040},{"s":"u","t":127,"v":0.038},{"s":"u","t":130,"v":0.039},{"s":"u","t":133,"v":0.035},{"s":"u","t":136,"v":0.036},{"s":"u","t":139,"v":0.039},{"s":"u","t":142,"v":0.033},{"s":"u","t":145,"v":0.032},{"s":"u","t":148,"v":0.043},{"s":"u","t":151,"v":0.040},{"s":"u","t":154,"v":0.039},{"s":"u","t":157,"v":0.034},{"s":"u","t":160,"v":0.036},{"s":"u","t":163,"v":0.037},{"s":"u","t":166,"v":0.036},{"s":"u","t":169,"v":0.037},{"s":"u","t":172,"v":0.036},{"s":"u","t":175,"v":0.037},{"s":"u","t":178,"v":0.034},{"s":"u","t":181,"v":0.040},{"s":"u","t":184,"v":0.044},{"s":"u","t":187,"v":0.038},{"s":"u","t":190,"v":0.036},{"s":"u","t":193,"v":0.037},{"s":"u","t":196,"v":0.035},{"s":"u","t":199,"v":0.033},{"s":"u","t":202,"v":0.032},{"s":"u","t":205,"v":0.033},{"s":"u","t":208,"v":0.032},{"s":"u","t":211,"v":0.041},{"s":"u","t":214,"v":0.037},{"s":"u","t":217,"v":0.040},{"s":"u","t":220,"v":0.041},{"s":"u","t":223,"v":0.044},{"s":"u","t":226,"v":0.037},{"s":"u","t":229,"v":0.038},{"s":"u","t":232,"v":0.044},{"s":"u","t":235,"v":0.037},{"s":"u","t":238,"v":0.035},{"s":"u","t":241,"v":0.033},{"s":"u","t":244,"v":0.040},{"s":"u","t":247,"v":0.037},{"s":"u","t":250,"v":0.040},{"s":"u","t":253,"v":0.037},{"s":"u","t":256,"v":0.033},{"s":"u","t":259,"v":0.032},{"s":"u","t":262,"v":0.035},{"s":"u","t":265,"v":0.032},{"s":"u","t":268,"v":0.030},{"s":"u","t":271,"v":0.032},{"s":"u","t":274,"v":0.040},{"s":"u","t":277,"v":0.047},{"s":"u","t":280,"v":0.046},{"s":"u","t":283,"v":0.045},{"s":"u","t":286,"v":0.046},{"s":"u","t":289,"v":0.044},{"s":"u","t":292,"v":0.041},{"s":"u","t":295,"v":0.040},{"s":"u","t":298,"v":0.037},{"s":"u","t":301,"v":0.036},{"s":"u","t":304,"v":0.035},{"s":"u","t":307,"v":0.033},{"s":"u","t":310,"v":0.031},{"s":"u","t":313,"v":0.032},{"s":"u","t":316,"v":0.035},{"s":"u","t":319,"v":0.037},{"s":"u","t":322,"v":0.037},{"s":"u","t":325,"v":0.036},{"s":"u","t":328,"v":0.041},{"s":"u","t":331,"v":0.050},{"s":"u","t":334,"v":0.048},{"s":"u","t":337,"v":0.045},{"s":"u","t":340,"v":0.043},{"s":"u","t":343,"v":0.052},{"s":"u","t":346,"v":0.041},{"s":"u","t":349,"v":0.040},{"s":"u","t":352,"v":0.039},{"s":"u","t":355,"v":0.035},{"s":"u","t":358,"v":0.039},{"s":"u","t":361,"v":0.040},{"s":"u","t":364,"v":0.039},{"s":"u","t":367,"v":0.043},{"s":"u","t":370,"v":0.047},{"s":"u","t":373,"v":0.044},{"s":"u","t":376,"v":0.050},{"s":"u","t":379,"v":0.043},{"s":"u","t":382,"v":0.040},{"s":"u","t":385,"v":0.041},{"s":"u","t":388,"v":0.040},{"s":"u","t":391,"v":0.039},{"s":"u","t":394,"v":0.041},{"s":"u","t":397,"v":0.037},{"s":"u","t":400,"v":0.036},{"s":"u","t":403,"v":0.036},{"s":"u","t":406,"v":0.037},{"s":"u","t":409,"v":0.040},{"s":"u","t":412,"v":0.037},{"s":"u","t":415,"v":0.036},{"s":"u","t":418,"v":0.037},{"s":"u","t":421,"v":0.039},{"s":"u","t":424,"v":0.036},{"s":"u","t":427,"v":0.036},{"s":"u","t":430,"v":0.033},{"s":"u","t":433,"v":0.028},{"s":"u","t":436,"v":0.028},{"s":"u","t":439,"v":0.029},{"s":"u","t":442,"v":0.035},{"s":"u","t":445,"v":0.036},{"s":"u","t":448,"v":0.035},{"s":"u","t":451,"v":0.040},{"s":"u","t":454,"v":0.045},{"s":"u","t":457,"v":0.043},{"s":"u","t":460,"v":0.040},{"s":"u","t":463,"v":0.037},{"s":"u","t":466,"v":0.036},{"s":"u","t":469,"v":0.037},{"s":"u","t":472,"v":0.040},{"s":"u","t":475,"v":0.053},{"s":"u","t":478,"v":0.046},{"s":"u","t":481,"v":0.043},{"s":"u","t":484,"v":0.040},{"s":"u","t":487,"v":0.041},{"s":"u","t":490,"v":0.040},{"s":"u","t":493,"v":0.037},{"s":"u","t":496,"v":0.039},{"s":"u","t":499,"v":0.037},{"s":"u","t":500,"v":0.038},
{"s":"l","t":0,"v":0.003},{"s":"l","t":1,"v":0.037},{"s":"l","t":4,"v":0.034},{"s":"l","t":7,"v":0.030},{"s":"l","t":10,"v":0.029},{"s":"l","t":13,"v":0.036},{"s":"l","t":16,"v":0.026},{"s":"l","t":19,"v":0.025},{"s":"l","t":22,"v":0.023},{"s":"l","t":25,"v":0.037},{"s":"l","t":28,"v":0.033},{"s":"l","t":31,"v":0.030},{"s":"l","t":34,"v":0.031},{"s":"l","t":37,"v":0.027},{"s":"l","t":40,"v":0.026},{"s":"l","t":43,"v":0.025},{"s":"l","t":46,"v":0.026},{"s":"l","t":49,"v":0.029},{"s":"l","t":52,"v":0.030},{"s":"l","t":55,"v":0.029},{"s":"l","t":58,"v":0.028},{"s":"l","t":61,"v":0.029},{"s":"l","t":64,"v":0.029},{"s":"l","t":67,"v":0.027},{"s":"l","t":70,"v":0.029},{"s":"l","t":73,"v":0.030},{"s":"l","t":76,"v":0.026},{"s":"l","t":79,"v":0.023},{"s":"l","t":82,"v":0.027},{"s":"l","t":85,"v":0.031},{"s":"l","t":88,"v":0.033},{"s":"l","t":91,"v":0.034},{"s":"l","t":94,"v":0.032},{"s":"l","t":97,"v":0.030},{"s":"l","t":100,"v":0.017},{"s":"l","t":103,"v":0.027},{"s":"l","t":106,"v":0.026},{"s":"l","t":109,"v":0.025},{"s":"l","t":112,"v":0.027},{"s":"l","t":115,"v":0.026},{"s":"l","t":118,"v":0.025},{"s":"l","t":121,"v":0.027},{"s":"l","t":124,"v":0.029},{"s":"l","t":127,"v":0.027},{"s":"l","t":130,"v":0.029},{"s":"l","t":133,"v":0.025},{"s":"l","t":136,"v":0.026},{"s":"l","t":139,"v":0.029},{"s":"l","t":142,"v":0.023},{"s":"l","t":145,"v":0.022},{"s":"l","t":148,"v":0.030},{"s":"l","t":151,"v":0.029},{"s":"l","t":154,"v":0.029},{"s":"l","t":157,"v":0.018},{"s":"l","t":160,"v":0.026},{"s":"l","t":163,"v":0.027},{"s":"l","t":166,"v":0.026},{"s":"l","t":169,"v":0.027},{"s":"l","t":172,"v":0.026},{"s":"l","t":175,"v":0.027},{"s":"l","t":178,"v":0.024},{"s":"l","t":181,"v":0.030},{"s":"l","t":184,"v":0.032},{"s":"l","t":187,"v":0.027},{"s":"l","t":190,"v":0.026},{"s":"l","t":193,"v":0.027},{"s":"l","t":196,"v":0.025},{"s":"l","t":199,"v":0.023},{"s":"l","t":202,"v":0.022},{"s":"l","t":205,"v":0.023},{"s":"l","t":208,"v":0.022},{"s":"l","t":211,"v":0.030},{"s":"l","t":214,"v":0.027},{"s":"l","t":217,"v":0.029},{"s":"l","t":220,"v":0.030},{"s":"l","t":223,"v":0.033},{"s":"l","t":226,"v":0.027},{"s":"l","t":229,"v":0.027},{"s":"l","t":232,"v":0.033},{"s":"l","t":235,"v":0.027},{"s":"l","t":238,"v":0.025},{"s":"l","t":241,"v":0.018},{"s":"l","t":244,"v":0.029},{"s":"l","t":247,"v":0.027},{"s":"l","t":250,"v":0.030},{"s":"l","t":253,"v":0.027},{"s":"l","t":256,"v":0.023},{"s":"l","t":259,"v":0.022},{"s":"l","t":262,"v":0.025},{"s":"l","t":265,"v":0.022},{"s":"l","t":268,"v":0.019},{"s":"l","t":271,"v":0.022},{"s":"l","t":274,"v":0.033},{"s":"l","t":277,"v":0.036},{"s":"l","t":280,"v":0.035},{"s":"l","t":283,"v":0.036},{"s":"l","t":286,"v":0.035},{"s":"l","t":289,"v":0.033},{"s":"l","t":292,"v":0.031},{"s":"l","t":295,"v":0.030},{"s":"l","t":298,"v":0.027},{"s":"l","t":301,"v":0.026},{"s":"l","t":304,"v":0.025},{"s":"l","t":307,"v":0.023},{"s":"l","t":310,"v":0.021},{"s":"l","t":313,"v":0.022},{"s":"l","t":316,"v":0.025},{"s":"l","t":319,"v":0.027},{"s":"l","t":322,"v":0.027},{"s":"l","t":325,"v":0.026},{"s":"l","t":328,"v":0.031},{"s":"l","t":331,"v":0.040},{"s":"l","t":334,"v":0.037},{"s":"l","t":337,"v":0.034},{"s":"l","t":340,"v":0.033},{"s":"l","t":343,"v":0.042},{"s":"l","t":346,"v":0.031},{"s":"l","t":349,"v":0.030},{"s":"l","t":352,"v":0.029},{"s":"l","t":354,"v":0.016},{"s":"l","t":355,"v":0.025},{"s":"l","t":358,"v":0.029},{"s":"l","t":361,"v":0.030},{"s":"l","t":364,"v":0.029},{"s":"l","t":367,"v":0.033},{"s":"l","t":370,"v":0.036},{"s":"l","t":373,"v":0.034},{"s":"l","t":376,"v":0.040},{"s":"l","t":379,"v":0.033},{"s":"l","t":382,"v":0.030},{"s":"l","t":385,"v":0.031},{"s":"l","t":388,"v":0.030},{"s":"l","t":391,"v":0.029},{"s":"l","t":394,"v":0.031},{"s":"l","t":397,"v":0.027},{"s":"l","t":400,"v":0.026},{"s":"l","t":403,"v":0.026},{"s":"l","t":406,"v":0.027},{"s":"l","t":409,"v":0.030},{"s":"l","t":412,"v":0.027},{"s":"l","t":415,"v":0.026},{"s":"l","t":418,"v":0.027},{"s":"l","t":421,"v":0.029},{"s":"l","t":424,"v":0.026},{"s":"l","t":427,"v":0.025},{"s":"l","t":430,"v":0.020},{"s":"l","t":432,"v":0.006},{"s":"l","t":434,"v":0.015},{"s":"l","t":436,"v":0.018},{"s":"l","t":439,"v":0.019},{"s":"l","t":442,"v":0.025},{"s":"l","t":445,"v":0.026},{"s":"l","t":448,"v":0.025},{"s":"l","t":451,"v":0.030},{"s":"l","t":454,"v":0.034},{"s":"l","t":457,"v":0.033},{"s":"l","t":460,"v":0.030},{"s":"l","t":463,"v":0.027},{"s":"l","t":466,"v":0.026},{"s":"l","t":469,"v":0.027},{"s":"l","t":472,"v":0.030},{"s":"l","t":475,"v":0.040},{"s":"l","t":478,"v":0.035},{"s":"l","t":481,"v":0.032},{"s":"l","t":484,"v":0.030},{"s":"l","t":487,"v":0.031},{"s":"l","t":490,"v":0.030},{"s":"l","t":493,"v":0.027},{"s":"l","t":496,"v":0.029},{"s":"l","t":499,"v":0.016},{"s":"l","t":500,"v":0.030}
]
},
"encoding":{
"x":{"field":"t","type":"quantitative","scale":{"domain":[-20,517.4],"nice":false,"zero":false},
"axis":{"values":[0,100,200,300,400,500],"title":"Tiempo (segundos)","labelPadding":10,"titleX":307,"titleY":74,"titleBaseline":"middle"}},
"y":{"field":"v","type":"quantitative","scale":{"domain":[-0.004,0.1352],"nice":false,"zero":false},
"axis":{"values":[0,0.02,0.04,0.06,0.08,0.1,0.12],"format":".2f","title":"Tasa de dosis de radiación gamma (µSv/h)","labelAngle":270,"labelAlign":"center","labelBaseline":"bottom","labelPadding":8,"labelFontSize":17,"titleFontSize":18.8,"titleAngle":270,"titleX":-79,"titleY":172,"titleBaseline":"middle"}}
},
"layer":[
{"data":{"name":"band"},"mark":{"type":"area","color":"#d3d3d3"},
"encoding":{"y":{"field":"olo","type":"quantitative","title":"Tasa de dosis de radiación gamma (µSv/h)"},"y2":{"field":"ohi"}}},
{"data":{"name":"spk"},"transform":[{"filter":"datum.k == 'l'"}],"mark":{"type":"rule","color":"#d3d3d3","strokeWidth":1.5},
"encoding":{"y":{"field":"a","type":"quantitative","title":"Tasa de dosis de radiación gamma (µSv/h)"},"y2":{"field":"b"}}},
{"data":{"name":"band"},"mark":{"type":"area","color":"#a3a3a3"},
"encoding":{"y":{"field":"blo","type":"quantitative","title":"Tasa de dosis de radiación gamma (µSv/h)"},"y2":{"field":"bhi"}}},
{"data":{"name":"spk"},"transform":[{"filter":"datum.k == 'd'"}],"mark":{"type":"rule","color":"#a3a3a3","strokeWidth":1.5},
"encoding":{"y":{"field":"a","type":"quantitative","title":"Tasa de dosis de radiación gamma (µSv/h)"},"y2":{"field":"b"}}},
{"data":{"name":"out"},"mark":{"type":"line","strokeWidth":1},
"encoding":{
"color":{"field":"s","type":"nominal","sort":["c6","c11"],"scale":{"domain":["c6","c11"],"range":["#ff0000","#00ffff"]},
"legend":{"orient":"none","legendX":399,"legendY":0,"direction":"horizontal","title":null,"symbolType":"M-0.333,0H3.667","symbolSize":324,"symbolStrokeWidth":1,"labelFontSize":19,"labelFont":"Liberation Sans","labelColor":"black","labelOffset":41,"columnPadding":23,"padding":10,"strokeColor":"black","fillColor":"white","cornerRadius":0}}}},
{"data":{"name":"med"},"mark":{"type":"line","color":"black","strokeWidth":1}},
{"data":{"name":"blue"},"mark":{"type":"line","color":"#0000ff","strokeWidth":1.2,"strokeDash":[2,3]},
"encoding":{"detail":{"field":"s","type":"nominal"}}}
]
}
